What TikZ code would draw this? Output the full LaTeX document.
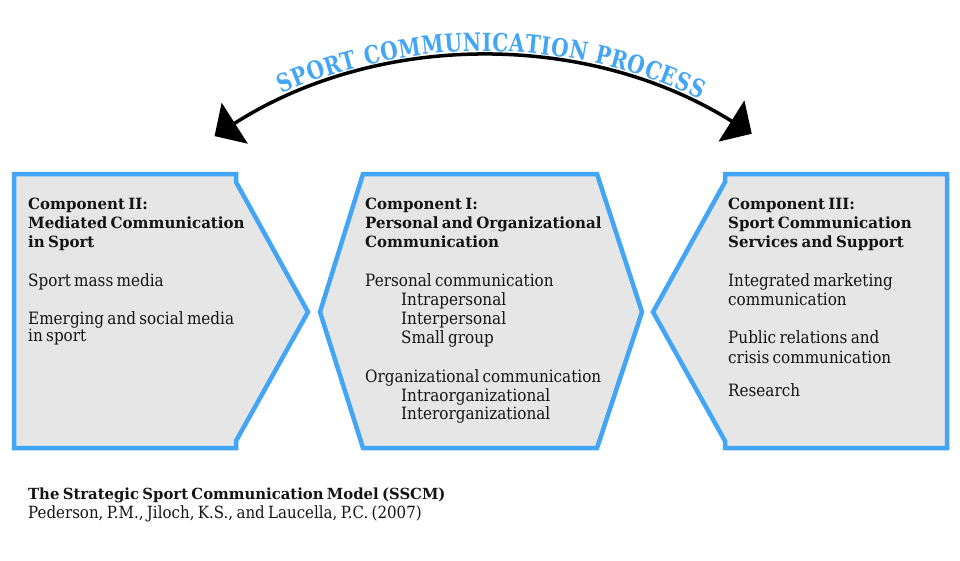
\documentclass[tikz,border=0pt]{standalone}
\usepackage{fontspec}
\usetikzlibrary{arrows.meta,decorations.text}
\newfontfamily\bodyrm{DejaVu Serif}[FakeStretch=0.895]
\newfontfamily\titlerm{DejaVu Serif}[FakeStretch=0.97]
\newfontfamily\arcrm{DejaVu Serif}[FakeStretch=0.8]
\definecolor{sscmblue}{RGB}{66,165,245}
\definecolor{boxgray}{RGB}{230,230,230}
\definecolor{inkc}{RGB}{20,20,20}
\newcommand\bodyf{\bodyrm\mdseries\fontsize{17}{19.27}\selectfont}
\newcommand\titlef{\titlerm\bfseries\fontsize{15.5}{19.27}\selectfont}
\newcommand\foottitlef{\titlerm\bfseries\fontsize{15.3}{19.27}\selectfont}
\newcommand\footf{\bodyrm\mdseries\fontsize{16.8}{19.27}\selectfont}
\newcommand\arcf{\arcrm\bfseries\fontsize{25}{30}\selectfont}
\newcommand\gap{\\[19.27pt]}
\tikzset{
  panel/.style={draw=sscmblue, fill=boxgray, line width=4.5pt, line join=miter},
  txt/.style={anchor=base west, align=left, text width=480pt, inner sep=0pt, text=inkc},
  processarc/.style={line width=3.5pt, {Triangle[length=24pt,width=48pt]}-{Triangle[length=24pt,width=48pt]}}
}
\begin{document}
\begin{tikzpicture}[x=1pt,y=1pt]
\path[use as bounding box] (0,0) rectangle (960,-560);
% panels
\draw[panel] (14,-174) -- (236,-174) -- (236,-182) -- (308,-312) -- (236,-441) -- (236,-448) -- (14,-448) -- cycle;
\draw[panel] (363,-174) -- (597,-174) -- (642,-312) -- (597,-448) -- (363,-448) -- (320,-312) -- cycle;
\draw[panel] (725,-174) -- (947,-174) -- (947,-448) -- (725,-448) -- (725,-441) -- (653,-312) -- (725,-182) -- cycle;
% arc
\coordinate (arcc) at (485,-559);
\draw[processarc] (arcc) ++(122.6:502) coordinate (ltip) arc (122.6:57.9:502) coordinate (rtip);
\path[decorate, decoration={text along path, text={|\arcf|SPORT COMMUNICATION PROCESS}, text align=fit to path, text color=sscmblue}]
  (arcc) ++(113.6:508) arc (113.6:64.9:508);
% texts
\node[txt] (c2) at (28,-209) {\titlef Component II:\\ Mediated Communication\\ in Sport\gap
 \bodyf Sport mass media\gap Emerging and social media\\ in sport};
\node[txt] (c1) at (365,-209) {\titlef Component I:\\ Personal and Organizational\\ Communication\gap
 \bodyf Personal communication\\ \hspace*{36pt}Intrapersonal\\ \hspace*{36pt}Interpersonal\\ \hspace*{36pt}Small group\gap
 Organizational communication\\ \hspace*{36pt}Intraorganizational\\ \hspace*{36pt}Interorganizational};
\node[txt] (c3) at (728,-209) {\titlef Component III:\\ Sport Communication\\ Services and Support\gap
 \bodyf Integrated marketing\\ communication\gap Public relations and\\ crisis communication\gap Research};
\node[txt] (ft1) at (28,-499) {\foottitlef The Strategic Sport Communication Model (SSCM)};
\node[txt] (ft2) at (28,-518) {\footf Pederson, P.M., Jiloch, K.S., and Laucella, P.C. (2007)};
\end{tikzpicture}
\end{document}
